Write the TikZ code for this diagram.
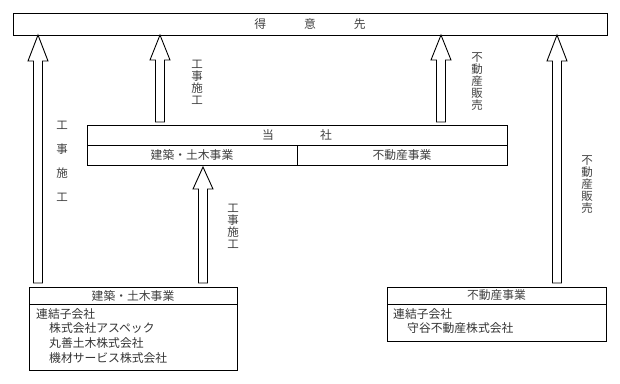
\documentclass[tikz,border=0pt]{standalone}
\usepackage{fontspec}
\setmainfont{Noto Sans CJK JP}
\usetikzlibrary{calc}
\tikzset{
  box/.style={draw=black, line width=1pt, rectangle, inner sep=0pt, outer sep=0pt, text=black!75, font=\fontsize{11.8}{13}\selectfont},
  arrowbox/.style={draw=black, line width=0.9pt, fill=white, line join=miter},
  lbl/.style={text=black!75, inner sep=0pt, font=\fontsize{11.5}{12}\selectfont, align=center},
  bodytxt/.style={text=black!80, inner sep=0pt, anchor=north west, align=left, font=\fontsize{11.8}{14.8}\selectfont}
}
\newcommand\blockarr[3]{%
  \draw[arrowbox] ($(#1)+(-4.5,0)$) -- ($(#2)+(-4.5,#3)$) -- ($(#2)+(-10,#3)$) -- (#2)
    -- ($(#2)+(10,#3)$) -- ($(#2)+(4.5,#3)$) -- ($(#1)+(4.5,0)$) -- cycle;}
\begin{document}
\begin{tikzpicture}[x=1pt,y=-1pt]
\useasboundingbox (0,0) rectangle (620,383);
% customer
\node[box, minimum width=594pt, minimum height=22pt] (cust) at (310,24) {得\hspace{38pt}意\hspace{38pt}先};
% own company
\node[box, minimum width=420pt, minimum height=20pt] (tosha) at (297,135) {当\hspace{46pt}社};
\node[box, minimum width=210pt, minimum height=20pt, anchor=north west] (tken) at (tosha.south west) {建築・土木事業};
\node[box, minimum width=210pt, minimum height=20pt, anchor=north east] (tfudo) at (tosha.south east) {不動産事業};
% subsidiaries
\node[box, minimum width=208pt, minimum height=17pt] (lhead) at (133,295.5) {建築・土木事業};
\node[box, minimum width=208pt, minimum height=66pt, anchor=north] (lbody) at (lhead.south) {};
\node[box, minimum width=219pt, minimum height=17pt] (rhead) at (496.5,295.5) {不動産事業};
\node[box, minimum width=219pt, minimum height=37pt, anchor=north] (rbody) at (rhead.south) {};
\node[bodytxt] (ltxt) at ($(lbody.north west)+(7,4)$) {連結子会社\\\hspace{13pt}株式会社アスペック\\\hspace{13pt}丸善土木株式会社\\\hspace{13pt}機材サービス株式会社};
\node[bodytxt, font=\fontsize{11.8}{14}\selectfont] (rtxt) at ($(rbody.north west)+(6,4)$) {連結子会社\\\hspace{14pt}守谷不動産株式会社};
% arrow coordinates
\coordinate (xL) at (38,0);
\coordinate (xM) at (160,0);
\coordinate (xC) at (203,0);
\coordinate (xR) at (441,0);
\coordinate (xF) at (557,0);
\coordinate (aLb) at ($(lhead.north -| xL)+(0,-4)$);
\coordinate (aLt) at (cust.south -| xL);
\coordinate (aMb) at ($(tosha.north -| xM)+(0,-3)$);
\coordinate (aMt) at (cust.south -| xM);
\coordinate (aCb) at ($(lhead.north -| xC)+(0,-4)$);
\coordinate (aCt) at ($(tken.south -| xC)+(0,2)$);
\coordinate (aRb) at ($(tosha.north -| xR)+(0,-3)$);
\coordinate (aRt) at (cust.south -| xR);
\coordinate (aFb) at ($(rhead.north -| xF)+(0,-4)$);
\coordinate (aFt) at (cust.south -| xF);
\blockarr{aLb}{aLt}{26}
\blockarr{aMb}{aMt}{25}
\blockarr{aCb}{aCt}{22}
\blockarr{aRb}{aRt}{25}
\blockarr{aFb}{aFt}{26}
% labels
\node[lbl, font=\fontsize{11.5}{24}\selectfont] (l1) at (62,161.5) {工\\事\\施\\工};
\node[lbl] (l2) at (197,82) {工\\事\\施\\工};
\node[lbl] (l3) at (233,226) {工\\事\\施\\工};
\node[lbl] (l4) at (477,82) {不\\動\\産\\販\\売};
\node[lbl] (l5) at (587,185) {不\\動\\産\\販\\売};
\end{tikzpicture}
\end{document}
